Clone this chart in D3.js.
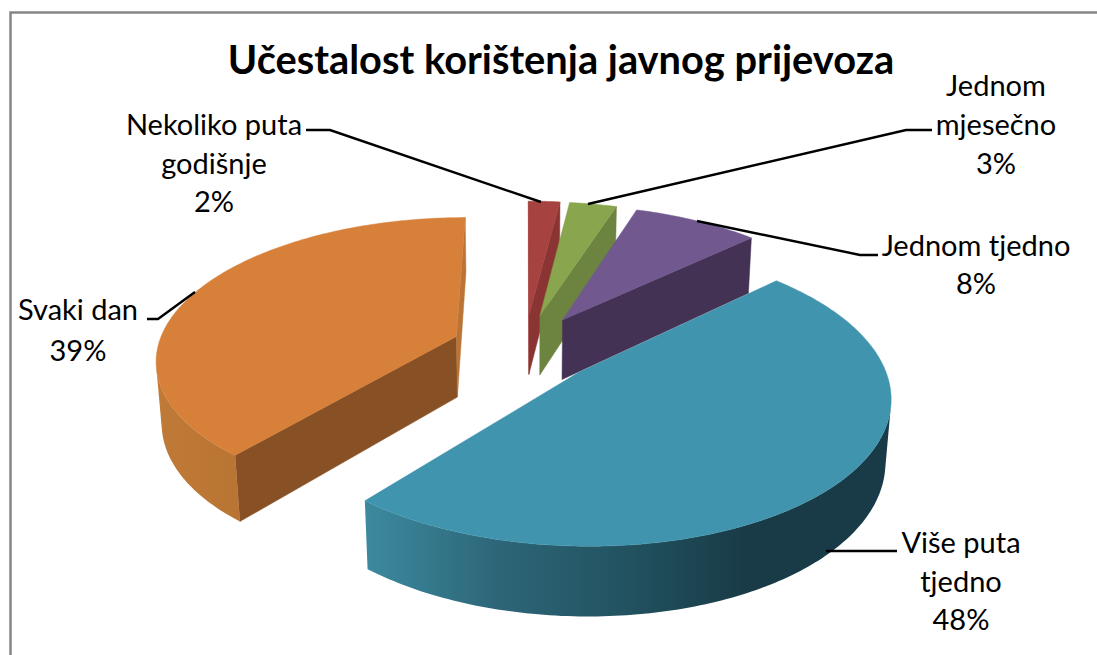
<!DOCTYPE html>
<html>
<head>
<meta charset="utf-8">
<script src="https://cdn.jsdelivr.net/npm/d3@7"></script>
<style>
  html, body { margin: 0; padding: 0; background: #fff; }
  svg { display: block; }
  text { font-family: Lato, "Open Sans", sans-serif; fill: #000; }
</style>
</head>
<body>
<div id="chart"></div>
<script>
var title = "Učestalost korištenja javnog prijevoza";

// clockwise from the lower left, the last slice ends before the top of the pie
var categories = ["Svaki dan", "Nekoliko puta godišnje", "Jednom mjesečno", "Jednom tjedno", "Više puta tjedno"];
var shares = [39, 2, 3, 8, 48];

var topColors = ["#d7803a", "#a6423f", "#89a54e", "#71588f", "#4094ad"];
var startWallColors = ["#885125", "#a6423f", "#89a54e", "#71588f", "#4094ad"];
var endWallColors = ["#ba7536", "#8a3533", "#6d8340", "#433254", "#4094ad"];
var outerWallStops = [
  [["0", "#c07a38"], ["0.5", "#b3702f"], ["1", "#bb7633"]],
  [["0", "#8a3533"], ["1", "#8a3533"]],
  [["0", "#6d8340"], ["1", "#6d8340"]],
  [["0", "#433254"], ["1", "#433254"]],
  [["0", "#3c8a9f"], ["0.25", "#2d6678"], ["0.5", "#225260"], ["0.72", "#193b47"], ["1", "#193b47"]]
];

// label lines, anchors and leader lines per slice
var labelLines = [
  ["Svaki dan", "39%"],
  ["Nekoliko puta", "godišnje", "2%"],
  ["Jednom", "mjesečno", "3%"],
  ["Jednom tjedno", "8%"],
  ["Više puta", "tjedno", "48%"]
];
var labelX = [78, 214, 996, 976, 961];
var labelBase = [320, 135, 96, 256, 553];
var labelStep = [41, 38.5, 39, 38, 38.5];
var leaders = [
  [[147, 319], [158, 319], [195, 292]],
  [[306, 130], [330, 130], [541, 202]],
  [[932, 130], [906, 130], [588, 204]],
  [[878, 255], [860, 255], [697, 221]],
  [[897, 551], [826, 551]]
];

var width = 1097, height = 655;

// the pie plane: u to the right, v towards the viewer, radius 1
var cx = 524.5, cy = 348, scaleU = 299, scaleV = 140;
var perspective = 0.15, explode = 0.245, depth = 62, depthShrink = 0.015;

function project(u, v, low) {
  var w = 1 - perspective * v + (low ? depthShrink : 0);
  return [cx + scaleU * u / w, cy + (scaleV * v + (low ? depth : 0)) / w];
}

var svg = d3.select("#chart").append("svg")
    .attr("width", width)
    .attr("height", height);

var defs = svg.append("defs");

svg.append("path")
    .attr("d", "M10.5," + height + "V12.5H" + width)
    .attr("fill", "none")
    .attr("stroke", "#868686")
    .attr("stroke-width", 2.5);

var pie = d3.pie()
    .sort(null)
    .startAngle(-2 * Math.PI * shares[0] / d3.sum(shares))
    .endAngle(2 * Math.PI - 2 * Math.PI * shares[0] / d3.sum(shares));

var slices = pie(shares).map(function(d, i) {
    var mid = (d.startAngle + d.endAngle) / 2;
    return {
        index: i,
        start: d.startAngle,
        end: d.endAngle,
        mid: mid,
        du: explode * Math.sin(mid),
        dv: -explode * Math.cos(mid)
    };
});

// far slices first
slices.sort(function(a, b) { return d3.descending(Math.cos(a.mid), Math.cos(b.mid)); });

var line = d3.line();

function rim(s, low) {
    var steps = Math.max(4, Math.round((s.end - s.start) * 60));
    return d3.range(steps + 1).map(function(k) {
        var a = s.start + (s.end - s.start) * k / steps;
        return project(s.du + Math.sin(a), s.dv - Math.cos(a), low);
    });
}

function drawFace(g, pts, fill) {
    g.append("path")
        .attr("d", line(pts) + "Z")
        .attr("fill", fill)
        .attr("stroke", fill)
        .attr("stroke-width", 0.5);
}

slices.forEach(function(s) {
    var g = svg.append("g").attr("class", "slice-" + s.index);
    var apexTop = project(s.du, s.dv, false);
    var apexLow = project(s.du, s.dv, true);
    var top = rim(s, false);
    var low = rim(s, true);
    var n = top.length - 1;

    // radial walls, only those turned to the viewer
    var startWall = [apexTop, top[0], low[0], apexLow];
    var endWall = [top[n], apexTop, apexLow, low[n]];
    if (d3.polygonArea(startWall) > 0) drawFace(g, startWall, startWallColors[s.index]);
    if (d3.polygonArea(endWall) > 0) drawFace(g, endWall, endWallColors[s.index]);

    // outer wall, same test for every piece of the rim, one path so there are no seams
    var xs = d3.extent(top, function(p) { return p[0]; });
    var gradId = "wall-" + s.index;
    var grad = defs.append("linearGradient")
        .attr("id", gradId)
        .attr("gradientUnits", "userSpaceOnUse")
        .attr("x1", xs[0]).attr("x2", xs[1]).attr("y1", 0).attr("y2", 0);
    outerWallStops[s.index].forEach(function(st) {
        grad.append("stop").attr("offset", st[0]).attr("stop-color", st[1]);
    });
    var wall = "";
    d3.range(n).forEach(function(k) {
        var quad = [top[k + 1], top[k], low[k], low[k + 1]];
        if (d3.polygonArea(quad) < 0) wall += line(quad) + "Z";
    });
    if (wall) {
        g.append("path")
            .attr("d", wall)
            .attr("fill", "url(#" + gradId + ")");
    }

    // top face
    drawFace(g, [apexTop].concat(top), topColors[s.index]);
});

// leader lines go over the pie
leaders.forEach(function(pts) {
    svg.append("path")
        .attr("d", line(pts))
        .attr("fill", "none")
        .attr("stroke", "#000")
        .attr("stroke-width", 2.4);
});

labelLines.forEach(function(lines, i) {
    var t = svg.append("text")
        .attr("text-anchor", "middle")
        .attr("font-size", 29);
    lines.forEach(function(txt, k) {
        t.append("tspan")
            .attr("x", labelX[i])
            .attr("y", labelBase[i] + k * labelStep[i])
            .text(txt);
    });
});

svg.append("text")
    .attr("x", 561)
    .attr("y", 74)
    .attr("text-anchor", "middle")
    .attr("font-size", 39.8)
    .attr("font-weight", 700)
    .text(title);
</script>
</body>
</html>
